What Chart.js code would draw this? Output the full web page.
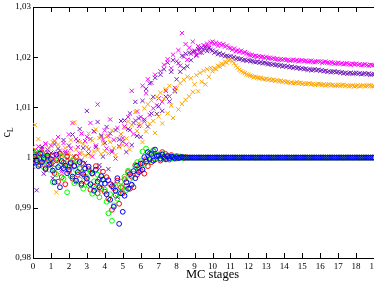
<!DOCTYPE html>
<html><head><meta charset="utf-8">
<script src="https://cdn.jsdelivr.net/npm/chart.js@4/dist/chart.umd.min.js"></script>
<style>html,body{margin:0;padding:0;overflow:hidden;background:#fff;width:374px;height:289px}#w{width:396px;height:289px}</style>
</head><body><div id="w"><canvas id="c" width="396" height="289"></canvas></div>
<script>
// x values: one sample every 0.1 MC stage, from 0 to 19
const stepPerStage = 10;
const xTicks = [0,1,2,3,4,5,6,7,8,9,10,11,12,13,14,15,16,17,18,19,20];
const yTicks = [0.98,0.99,1.00,1.01,1.02,1.03];

const magenta = [
1.0008,1.0015,0.9996,1.0022,1.0003,1.0017,0.9991,1.0028,1.0011,1.0002,
1.0024,0.9985,1.0033,1.0006,1.0041,1.0014,0.9972,1.0029,1.0012,1.0009,
1.0046,1.0018,1.0069,0.9992,1.0037,1.0021,1.0008,1.0048,0.9968,1.0033,
1.0041,1.0017,1.0069,1.0002,1.0053,1.0024,1.0106,0.9978,1.0042,1.0036,
1.0054,1.0018,1.0043,1.0076,1.0011,1.0035,0.9998,1.0059,1.0023,1.0047,
1.0039,1.0062,1.0026,1.0081,1.0055,1.0133,1.0047,1.0074,1.0092,1.0063,
1.0081,1.0143,1.0072,1.0128,1.0156,1.0085,1.0149,1.0098,1.0165,1.0104,
1.0118,1.0172,1.0111,1.0185,1.0133,1.0196,1.0122,1.0178,1.0205,1.0139,
1.0192,1.0214,1.0183,1.0248,1.0201,1.0226,1.0195,1.0219,1.0207,1.0231,
1.0213,1.0205,1.0222,1.0216,1.0209,1.0224,1.0218,1.0227,1.0221,1.0229,
1.0231,1.0226,1.0229,1.0223,1.0227,1.0224,1.0226,1.0221,1.0223,1.0219,
1.0218,1.0215,1.0217,1.0212,1.0214,1.0211,1.0213,1.0209,1.0210,1.0207,
1.0206,1.0204,1.0205,1.0202,1.0203,1.0201,1.0202,1.0200,1.0201,1.0199,
1.0200,1.0198,1.0199,1.0197,1.0198,1.0196,1.0197,1.0195,1.0196,1.0195,
1.0196,1.0194,1.0195,1.0193,1.0194,1.0195,1.0193,1.0194,1.0192,1.0193,
1.0194,1.0192,1.0193,1.0191,1.0192,1.0193,1.0191,1.0190,1.0191,1.0192,
1.0191,1.0189,1.0190,1.0191,1.0189,1.0188,1.0190,1.0189,1.0187,1.0188,
1.0189,1.0187,1.0188,1.0186,1.0187,1.0188,1.0186,1.0185,1.0187,1.0186,
1.0187,1.0185,1.0186,1.0184,1.0185,1.0186,1.0184,1.0183,1.0185,1.0184,
1.0184];

const purple = [
0.9982,1.0006,0.9935,1.0013,0.9994,1.0021,0.9968,1.0004,1.0016,0.9987,
1.0009,0.9959,1.0027,0.9992,1.0018,1.0001,0.9976,1.0035,1.0009,0.9998,
1.0024,0.9981,1.0046,1.0002,0.9952,1.0033,1.0057,0.9995,1.0019,0.9989,
1.0093,1.0008,1.0037,0.9973,1.0052,1.0021,1.0071,0.9985,1.0044,1.0002,
1.0029,1.0061,0.9977,1.0048,1.0014,0.9948,1.0055,0.9921,1.0036,1.0073,
1.0032,1.0074,1.0011,1.0057,1.0088,1.0025,1.0069,1.0111,1.0043,1.0078,
1.0041,1.0113,1.0076,1.0137,1.0062,1.0148,1.0088,1.0121,1.0159,1.0087,
1.0102,1.0165,1.0093,1.0176,1.0121,1.0189,1.0112,1.0171,1.0194,1.0133,
1.0156,1.0188,1.0171,1.0203,1.0178,1.0207,1.0182,1.0209,1.0194,1.0211,
1.0211,1.0203,1.0216,1.0209,1.0219,1.0214,1.0221,1.0212,1.0218,1.0215,
1.0213,1.0209,1.0211,1.0206,1.0208,1.0204,1.0206,1.0202,1.0203,1.0201,
1.0202,1.0199,1.0200,1.0197,1.0198,1.0196,1.0197,1.0194,1.0195,1.0193,
1.0194,1.0192,1.0193,1.0191,1.0190,1.0191,1.0189,1.0190,1.0188,1.0189,
1.0188,1.0186,1.0187,1.0185,1.0186,1.0184,1.0185,1.0183,1.0184,1.0182,
1.0183,1.0181,1.0182,1.0180,1.0181,1.0179,1.0180,1.0178,1.0179,1.0177,
1.0178,1.0176,1.0177,1.0175,1.0176,1.0174,1.0175,1.0176,1.0174,1.0175,
1.0173,1.0174,1.0172,1.0173,1.0171,1.0172,1.0170,1.0171,1.0172,1.0170,
1.0171,1.0169,1.0170,1.0168,1.0169,1.0167,1.0168,1.0169,1.0167,1.0168,
1.0169,1.0167,1.0168,1.0166,1.0167,1.0168,1.0166,1.0167,1.0165,1.0166,
1.0167];

const orange = [
1.0021,1.0065,0.9997,1.0037,1.0008,1.0014,0.9989,1.0026,1.0003,1.0018,
0.9993,1.0031,1.0012,0.9931,1.0026,1.0008,1.0004,0.9986,1.0019,1.0006,
1.0008,1.0035,1.0002,1.0070,1.0016,0.9995,1.0031,1.0009,1.0027,1.0004,
1.0021,1.0048,1.0003,1.0034,1.0012,1.0056,1.0015,1.0039,1.0007,1.0028,
1.0013,1.0042,1.0008,1.0031,1.0054,1.0019,1.0005,1.0038,1.0021,1.0047,
1.0025,1.0059,1.0038,1.0072,1.0016,1.0065,1.0046,1.0091,1.0053,1.0068,
1.0064,1.0031,1.0098,1.0052,1.0106,1.0067,1.0114,1.0073,1.0049,1.0121,
1.0082,1.0129,1.0068,1.0117,1.0136,1.0088,1.0143,1.0104,1.0079,1.0131,
1.0138,1.0096,1.0148,1.0107,1.0155,1.0115,1.0161,1.0122,1.0158,1.0131,
1.0146,1.0164,1.0132,1.0169,1.0151,1.0173,1.0146,1.0176,1.0161,1.0179,
1.0172,1.0178,1.0176,1.0183,1.0181,1.0187,1.0185,1.0191,1.0189,1.0194,
1.0195,1.0192,1.0188,1.0183,1.0179,1.0175,1.0172,1.0170,1.0168,1.0166,
1.0165,1.0163,1.0162,1.0160,1.0161,1.0159,1.0158,1.0159,1.0157,1.0156,
1.0157,1.0155,1.0156,1.0154,1.0155,1.0153,1.0154,1.0152,1.0153,1.0151,
1.0152,1.0150,1.0151,1.0149,1.0150,1.0148,1.0149,1.0150,1.0148,1.0149,
1.0147,1.0148,1.0146,1.0147,1.0148,1.0146,1.0147,1.0145,1.0146,1.0147,
1.0146,1.0145,1.0146,1.0144,1.0145,1.0146,1.0144,1.0145,1.0143,1.0144,
1.0145,1.0143,1.0144,1.0145,1.0143,1.0144,1.0142,1.0143,1.0144,1.0142,
1.0143,1.0144,1.0142,1.0143,1.0144,1.0142,1.0143,1.0144,1.0143,1.0142,
1.0143];

const red = [
0.9998,1.0006,0.9991,1.0003,0.9985,1.0009,0.9996,0.9979,1.0001,0.9993,
0.9987,1.0004,0.9969,0.9995,0.9952,1.0008,0.9961,0.9990,0.9947,1.0002,
0.9973,0.9991,0.9958,0.9984,1.0001,0.9966,0.9979,0.9945,0.9988,0.9962,
0.9951,0.9977,0.9936,0.9968,0.9942,0.9983,0.9929,0.9957,0.9938,0.9972,
0.9932,0.9961,0.9918,0.9947,0.9896,0.9939,0.9925,0.9954,0.9908,0.9941,
0.9929,0.9957,0.9943,0.9971,0.9938,0.9962,0.9941,0.9985,0.9966,0.9979,
0.9974,0.9989,0.9968,0.9997,0.9983,1.0008,0.9991,1.0013,0.9996,1.0004,
1.0006,0.9994,1.0011,0.9998,1.0007,1.0002,0.9996,1.0005,1.0001,0.9998,
1.0003,0.9999,1.0002,1.0001,0.9999,1.0001,1,1,1,1,
1,1,1,1,1,1,1,1,1,1, 1,1,1,1,1,1,1,1,1,1,
1,1,1,1,1,1,1,1,1,1, 1,1,1,1,1,1,1,1,1,1,
1,1,1,1,1,1,1,1,1,1, 1,1,1,1,1,1,1,1,1,1,
1,1,1,1,1,1,1,1,1,1, 1,1,1,1,1,1,1,1,1,1,
1,1,1,1,1,1,1,1,1,1, 1,1,1,1,1,1,1,1,1,1,
1];

const green = [
1.0004,0.9993,1.0011,0.9986,0.9999,1.0007,0.9981,0.9995,1.0002,0.9976,
0.9992,0.9951,0.9978,0.9967,0.9996,0.9984,1.0003,0.9958,0.9989,0.9931,
0.9981,0.9963,0.9994,0.9949,0.9975,0.9987,0.9956,0.9969,0.9938,0.9979,
0.9961,0.9944,0.9972,0.9928,0.9953,0.9939,0.9966,0.9921,0.9948,0.9957,
0.9936,0.9912,0.9889,0.9927,0.9874,0.9905,0.9943,0.9918,0.9931,0.9952,
0.9941,0.9962,0.9935,0.9974,0.9957,0.9945,0.9968,0.9982,0.9991,0.9977,
0.9993,1.0012,0.9986,1.0018,1.0004,0.9995,1.0009,1.0015,0.9999,1.0006,
1.0002,0.9997,1.0008,1.0003,0.9996,1.0004,1.0001,0.9998,1.0003,1.0001,
0.9998,1.0002,1.0001,0.9999,1.0001,1,1,1,1,1,
1,1,1,1,1,1,1,1,1,1, 1,1,1,1,1,1,1,1,1,1,
1,1,1,1,1,1,1,1,1,1, 1,1,1,1,1,1,1,1,1,1,
1,1,1,1,1,1,1,1,1,1, 1,1,1,1,1,1,1,1,1,1,
1,1,1,1,1,1,1,1,1,1, 1,1,1,1,1,1,1,1,1,1,
1,1,1,1,1,1,1,1,1,1, 1,1,1,1,1,1,1,1,1,1,
1];

const blue = [
0.9989,1.0002,0.9995,0.9983,1.0008,0.9991,0.9999,0.9977,1.0004,0.9986,
0.9997,0.9974,0.9951,1.0006,0.9981,0.9941,0.9993,0.9979,0.9984,0.9969,
0.9976,0.9989,0.9962,0.9983,0.9954,0.9971,0.9991,0.9948,0.9967,0.9978,
0.9958,0.9982,0.9947,0.9969,0.9934,0.9976,0.9952,0.9941,0.9963,0.9956,
0.9948,0.9927,0.9955,0.9916,0.9943,0.9902,0.9934,0.9959,0.9868,0.9929,
0.9892,0.9924,0.9951,0.9938,0.9967,0.9946,0.9973,0.9959,0.9984,0.9971,
0.9988,0.9976,1.0001,0.9992,1.0011,0.9997,1.0007,0.9994,1.0016,1.0003,
1.0004,0.9998,1.0006,1.0001,0.9997,1.0003,0.9999,1.0002,1.0001,0.9999,
1.0001,0.9999,1,1.0001,1,1,1,1,1,1,
1,1,1,1,1,1,1,1,1,1, 1,1,1,1,1,1,1,1,1,1,
1,1,1,1,1,1,1,1,1,1, 1,1,1,1,1,1,1,1,1,1,
1,1,1,1,1,1,1,1,1,1, 1,1,1,1,1,1,1,1,1,1,
1,1,1,1,1,1,1,1,1,1, 1,1,1,1,1,1,1,1,1,1,
1,1,1,1,1,1,1,1,1,1, 1,1,1,1,1,1,1,1,1,1,
1];

const toPts = vals => vals.map((v,i)=>({x:i/stepPerStage, y:v}));
const crossDs = (label, vals, col) => ({label, data: toPts(vals), pointStyle:'crossRot', pointRadius:3, pointHoverRadius:3, borderColor:col, backgroundColor:col, pointBorderWidth:1, showLine:false});
const circDs = (label, vals, col) => ({label, data: toPts(vals), pointStyle:'circle', pointRadius:2.4, pointHoverRadius:2.4, borderColor:col, backgroundColor:'rgba(0,0,0,0)', pointBorderWidth:1, showLine:false});

const fmt = v => Math.abs(v-1) < 1e-9 ? '1' : v.toFixed(2).replace('.', ',');

const framePlugin = {
  id:'frame',
  afterDatasetsDraw(chart){
    const {ctx, chartArea:a, scales:{x,y}} = chart;
    ctx.save();
    ctx.strokeStyle='#000'; ctx.lineWidth=1;
    ctx.beginPath();
    ctx.moveTo(a.left, Math.round(a.top)+0.5); ctx.lineTo(a.right, Math.round(a.top)+0.5);
    ctx.moveTo(Math.round(a.right)-0.5, a.top); ctx.lineTo(Math.round(a.right)-0.5, a.bottom);
    xTicks.forEach(t=>{const p=Math.round(x.getPixelForValue(t))+0.5;
      ctx.moveTo(p,a.bottom); ctx.lineTo(p,a.bottom-5);
      ctx.moveTo(p,a.top); ctx.lineTo(p,a.top+5);});
    yTicks.forEach(t=>{const p=Math.round(y.getPixelForValue(t))+0.5;
      ctx.moveTo(a.left,p); ctx.lineTo(a.left+5,p);
      ctx.moveTo(a.right,p); ctx.lineTo(a.right-5,p);});
    ctx.stroke();
    // y title c_L
    ctx.translate(10, (a.top+a.bottom)/2);
    ctx.rotate(-Math.PI/2);
    ctx.fillStyle='#000';
    ctx.textBaseline='alphabetic';
    ctx.font='12px "Liberation Serif"';
    const wc = ctx.measureText('c').width;
    ctx.font='8px "Liberation Serif"';
    const wl = ctx.measureText('L').width;
    const s = -(wc+wl)/2;
    ctx.font='12px "Liberation Serif"';
    ctx.fillText('c', s, 0);
    ctx.font='8px "Liberation Serif"';
    ctx.fillText('L', s+wc, 3);
    ctx.restore();
  }
};

new Chart(document.getElementById('c'), {
  type:'scatter',
  data:{datasets:[
    circDs('blue', blue, '#0000ff'),
    circDs('green', green, '#00ff00'),
    circDs('red', red, '#ff0000'),
    crossDs('orange', orange, '#ffa500'),
    crossDs('indigo', purple, '#7221bc'),
    crossDs('magenta', magenta, '#ff00ff')
  ]},
  options:{
    responsive:false, animation:false,
    layout:{padding:{left:0, top:7, right:3, bottom:0}},
    plugins:{legend:{display:false}, tooltip:{enabled:false}},
    scales:{
      x:{type:'linear', min:0, max:20,
        afterBuildTicks: s => { s.ticks = xTicks.map(v=>({value:v})); },
        afterFit: s => { s.height = 31; s.paddingLeft = 0; s.paddingRight = 0; },
        grid:{display:false, drawTicks:false},
        border:{display:true, color:'#000', width:1},
        ticks:{autoSkip:false, maxRotation:0, padding:3, color:'#000', font:{family:'"Liberation Serif"', size:9}},
        title:{display:true, text:'MC stages', color:'#000', font:{family:'"Liberation Serif"', size:12.5}, padding:{top:0, bottom:7}}
      },
      y:{type:'linear', min:0.98, max:1.03,
        afterBuildTicks: s => { s.ticks = yTicks.map(v=>({value:v})); },
        afterFit: s => { s.width = 33; s.paddingTop = 0; s.paddingBottom = 0; },
        grid:{display:false, drawTicks:false},
        border:{display:true, color:'#000', width:1},
        ticks:{padding:2, color:'#000', font:{family:'"Liberation Serif"', size:9}, callback: v => fmt(v)}
      }
    }
  },
  plugins:[framePlugin]
});
</script>
</body></html>
